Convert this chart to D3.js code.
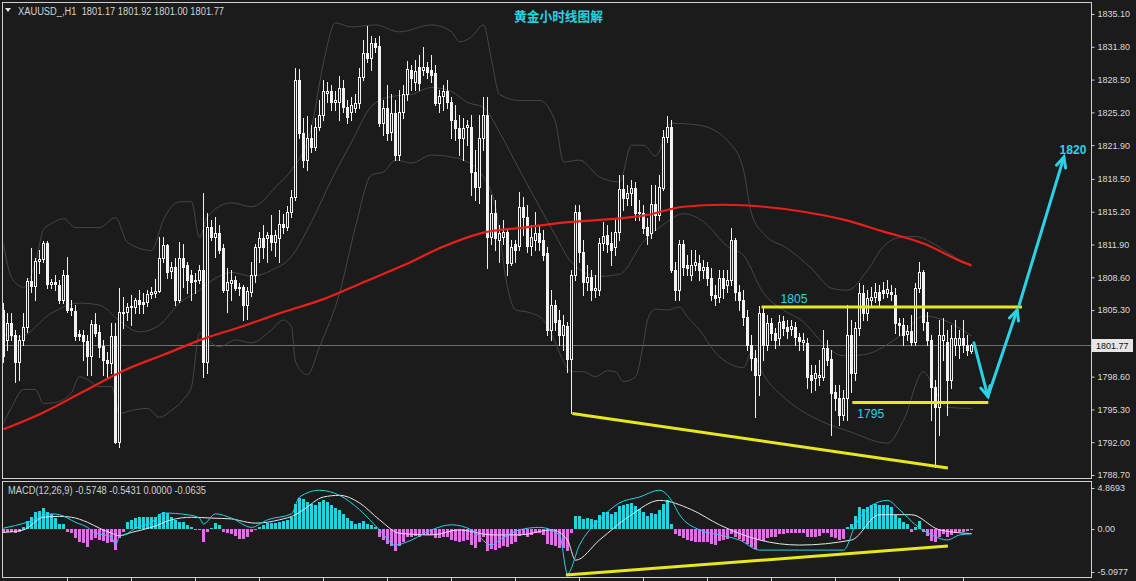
<!DOCTYPE html>
<html><head><meta charset="utf-8">
<script src="https://cdn.jsdelivr.net/npm/d3@7/dist/d3.min.js"></script>
<style>html,body{margin:0;padding:0;background:#1b1b1b;overflow:hidden}svg{display:block}</style>
</head><body>
<svg id="chart" width="1136" height="581"></svg>
<script>
// ---------------- DATA (XAUUSD H1) ----------------
const open = [
1805.3,1802.3,1804.0,1802.8,1800.1,1802.3,1803.6,1808.2,1807.7,1810.2,
1810.4,1812.1,1807.9,1808.1,1807.8,1806.3,1808.8,1805.5,1805.2,1802.9,
1802.8,1802.2,1800.7,1803.9,1803.1,1801.7,1800.3,1800.0,1802.7,1792.0,
1805.0,1805.1,1805.6,1805.6,1806.3,1806.1,1806.1,1806.9,1807.0,1807.2,
1810.5,1811.8,1809.2,1809.6,1806.3,1810.5,1809.8,1808.8,1808.3,1808.3,
1809.3,1800.1,1813.7,1812.7,1813.1,1811.5,1807.3,1808.0,1808.3,1807.5,
1807.6,1805.8,1807.1,1808.8,1811.6,1812.6,1812.6,1812.9,1812.2,1812.6,
1814.0,1813.7,1815.2,1816.7,1828.5,1823.1,1820.4,1822.6,1821.7,1823.7,
1824.9,1827.1,1827.3,1826.2,1826.2,1827.7,1825.7,1825.2,1825.6,1826.1,
1828.8,1831.2,1830.7,1832.2,1831.9,1824.1,1825.6,1823.2,1825.1,1820.9,
1825.2,1827.0,1829.5,1828.3,1829.8,1829.5,1829.8,1829.5,1829.2,1826.1,
1826.8,1827.3,1826.2,1824.4,1823.6,1822.6,1823.7,1823.7,1819.2,1817.7,
1822.6,1824.9,1812.7,1815.1,1812.4,1812.7,1813.2,1810.0,1811.9,1811.7,
1815.7,1814.7,1811.7,1812.4,1813.1,1812.4,1811.0,1803.3,1805.8,1804.3,
1802.8,1803.7,1800.4,1808.8,1815.2,1811.1,1808.1,1808.6,1807.3,1807.3,
1812.1,1812.9,1812.1,1811.6,1813.2,1817.5,1816.6,1817.1,1817.6,1815.2,
1815.1,1813.7,1813.1,1816.0,1814.9,1817.6,1822.7,1823.7,1809.3,1807.3,
1811.9,1809.8,1808.8,1809.8,1810.0,1809.3,1809.6,1808.5,1806.8,1806.6,
1808.5,1807.8,1808.3,1812.4,1807.1,1806.3,1804.6,1801.8,1800.5,1798.8,
1805.0,1801.8,1804.0,1803.0,1802.5,1804.2,1803.6,1803.4,1803.6,1802.6,
1802.1,1802.0,1798.8,1798.5,1798.6,1798.6,1801.5,1800.4,1797.1,1796.5,
1794.7,1796.5,1802.8,1799.0,1803.5,1807.0,1805.0,1806.3,1806.6,1807.1,
1807.3,1807.0,1807.1,1806.8,1804.0,1803.8,1802.9,1803.2,1802.1,1807.5,
1809.1,1804.1,1802.3,1797.6,1795.5,1802.3,1802.1,1798.3,1801.8,1801.8,
1802.5,1801.8,1801.17];
const high = [
1806.0,1805.0,1805.0,1803.3,1802.8,1805.0,1808.5,1811.5,1810.5,1811.3,
1812.3,1812.3,1808.4,1808.8,1808.3,1809.3,1810.6,1806.3,1805.8,1803.3,
1803.3,1802.8,1804.3,1805.0,1803.8,1802.3,1801.1,1804.0,1804.0,1807.5,
1806.6,1806.0,1806.8,1806.5,1807.3,1807.0,1807.3,1807.6,1808.4,1812.7,
1812.7,1812.0,1810.1,1810.5,1812.2,1811.9,1810.1,1809.3,1809.0,1809.8,
1817.1,1815.1,1814.4,1814.7,1813.9,1811.9,1809.5,1809.3,1808.7,1808.0,
1807.8,1807.6,1810.1,1811.9,1813.2,1813.9,1813.2,1814.9,1813.4,1815.4,
1815.0,1815.8,1817.4,1829.7,1829.6,1824.6,1824.8,1823.9,1824.6,1826.4,
1828.5,1828.3,1828.0,1827.3,1828.9,1828.5,1826.4,1826.7,1827.0,1829.7,
1832.5,1833.9,1832.9,1832.7,1832.9,1826.4,1828.0,1827.0,1826.4,1827.5,
1828.0,1830.4,1830.0,1830.5,1831.0,1831.8,1830.3,1831.0,1830.0,1827.5,
1828.0,1828.5,1826.7,1825.9,1824.9,1824.6,1824.4,1824.9,1821.4,1824.9,
1826.7,1826.7,1816.9,1816.4,1813.9,1814.4,1813.6,1812.4,1812.4,1817.2,
1816.7,1815.9,1813.9,1815.2,1813.9,1813.4,1811.6,1807.3,1806.3,1805.3,
1804.8,1804.1,1809.3,1815.9,1815.9,1812.4,1809.8,1809.3,1808.8,1812.6,
1814.2,1813.9,1813.2,1814.6,1818.9,1818.9,1817.9,1818.4,1818.2,1816.4,
1815.9,1814.6,1817.9,1817.9,1818.9,1823.4,1824.8,1824.4,1810.1,1812.4,
1812.4,1810.8,1811.3,1811.3,1810.8,1810.3,1810.1,1809.5,1807.8,1809.3,
1809.3,1809.3,1813.6,1812.6,1807.8,1807.3,1805.3,1802.8,1801.3,1805.7,
1805.7,1804.8,1804.5,1803.5,1804.8,1804.7,1804.3,1804.3,1804.1,1803.0,
1803.0,1802.5,1799.8,1799.8,1800.3,1803.3,1802.3,1801.3,1797.8,1797.8,
1797.3,1805.8,1804.3,1804.1,1808.0,1807.8,1807.3,1807.6,1808.0,1807.8,
1808.1,1808.3,1807.8,1807.5,1804.5,1804.5,1803.8,1804.8,1808.0,1810.1,
1809.3,1805.1,1802.8,1798.3,1804.3,1804.5,1803.3,1803.8,1804.3,1803.3,
1804.3,1802.8,1801.92];
const low = [
1800.1,1801.3,1802.3,1798.1,1798.3,1801.8,1803.1,1807.1,1806.3,1809.0,
1810.1,1807.5,1807.5,1807.3,1806.0,1806.0,1805.1,1804.8,1802.3,1802.3,
1800.3,1798.8,1798.8,1802.7,1800.6,1798.8,1798.5,1799.0,1791.9,1791.5,
1803.5,1804.3,1803.8,1805.0,1805.0,1805.0,1805.7,1806.5,1806.6,1807.1,
1810.1,1808.5,1808.5,1805.8,1806.1,1807.6,1807.0,1806.3,1807.0,1808.0,
1798.6,1799.0,1812.4,1810.6,1811.0,1807.1,1805.1,1806.3,1807.3,1806.8,
1804.3,1804.4,1806.7,1808.1,1810.1,1810.5,1810.1,1811.3,1810.7,1810.1,
1813.1,1813.4,1814.7,1816.4,1822.6,1819.7,1819.4,1821.2,1821.4,1823.4,
1824.4,1826.2,1825.4,1825.4,1824.4,1825.2,1824.1,1824.4,1825.2,1825.6,
1828.5,1830.3,1829.5,1831.3,1823.8,1822.9,1822.4,1822.4,1820.4,1820.4,
1824.6,1826.4,1827.5,1827.5,1827.5,1829.0,1828.7,1828.3,1825.9,1825.2,
1825.4,1825.6,1822.6,1822.4,1820.9,1820.4,1821.9,1816.9,1816.4,1816.1,
1821.4,1809.5,1811.9,1811.3,1810.1,1811.9,1808.8,1809.8,1810.1,1811.3,
1812.9,1811.1,1810.8,1811.3,1811.3,1810.3,1802.8,1802.3,1803.3,1801.8,
1801.3,1799.1,1794.9,1808.3,1810.1,1806.8,1807.3,1806.3,1806.6,1806.8,
1811.3,1811.1,1809.8,1810.8,1812.4,1815.4,1815.9,1815.9,1814.4,1814.4,
1813.1,1811.9,1812.6,1813.4,1814.4,1817.4,1822.2,1809.1,1806.3,1806.3,
1808.8,1808.8,1808.3,1809.3,1808.3,1808.5,1807.8,1806.3,1805.8,1806.1,
1806.5,1807.1,1807.8,1806.3,1805.3,1803.8,1801.3,1799.3,1794.5,1796.8,
1800.3,1801.3,1802.3,1801.5,1801.8,1802.8,1802.5,1802.8,1801.8,1801.3,
1801.3,1797.5,1797.1,1797.3,1797.8,1798.3,1799.8,1792.7,1795.2,1793.7,
1794.2,1794.2,1797.1,1798.3,1802.8,1804.3,1804.3,1805.8,1806.1,1805.8,
1806.5,1806.6,1806.3,1803.0,1802.8,1801.8,1802.3,1801.8,1801.8,1807.1,
1803.3,1801.8,1794.2,1789.5,1792.7,1800.3,1794.7,1797.5,1800.8,1800.5,
1801.1,1800.8,1801.00];
const close = [
1800.7,1804.0,1802.8,1800.1,1802.3,1803.6,1808.2,1807.7,1810.2,1810.4,
1812.1,1807.9,1808.1,1807.9,1806.3,1808.8,1805.3,1805.3,1802.7,1802.7,
1802.2,1800.7,1803.9,1803.0,1801.6,1800.3,1800.0,1802.7,1792.0,1805.1,
1805.1,1805.6,1805.7,1806.3,1805.9,1805.9,1806.9,1807.1,1807.2,1810.5,
1811.8,1809.1,1809.6,1806.3,1810.5,1809.6,1808.3,1808.1,1808.2,1809.3,
1800.1,1813.7,1812.7,1813.1,1811.3,1807.3,1808.1,1808.3,1807.5,1807.6,
1805.8,1807.2,1808.8,1811.6,1812.6,1811.6,1812.9,1812.2,1812.9,1814.0,
1813.7,1815.2,1816.7,1828.5,1823.1,1820.4,1822.6,1821.7,1823.7,1824.9,
1827.3,1827.3,1826.2,1826.4,1827.7,1825.7,1824.7,1825.9,1826.1,1828.8,
1831.2,1830.7,1832.2,1831.8,1824.1,1825.6,1823.1,1825.1,1820.9,1825.2,
1827.0,1829.6,1828.7,1829.4,1828.2,1829.8,1829.3,1829.0,1826.1,1826.8,
1827.3,1826.2,1824.4,1823.6,1822.6,1823.6,1823.9,1819.2,1817.7,1822.6,
1824.9,1812.7,1815.1,1812.6,1813.1,1813.2,1810.0,1811.6,1811.3,1815.7,
1814.7,1811.7,1812.7,1813.1,1812.2,1810.8,1803.3,1805.8,1804.1,1802.8,
1803.8,1800.4,1808.8,1815.2,1811.1,1808.1,1808.6,1807.3,1807.5,1812.1,
1812.8,1811.9,1811.3,1813.2,1817.5,1816.6,1817.1,1817.6,1815.1,1815.1,
1813.6,1812.9,1816.0,1814.9,1817.7,1822.7,1823.7,1809.3,1807.3,1811.9,
1809.6,1809.5,1809.8,1810.1,1809.3,1809.6,1808.5,1806.8,1806.5,1808.5,
1807.5,1808.3,1812.4,1807.1,1806.3,1804.6,1801.8,1800.5,1798.8,1805.0,
1801.8,1804.0,1803.0,1802.3,1804.1,1803.5,1803.2,1803.7,1802.6,1802.2,
1802.3,1798.6,1798.3,1799.0,1798.8,1801.5,1800.3,1797.0,1796.5,1794.7,
1796.5,1802.8,1799.0,1803.5,1807.0,1805.0,1806.5,1806.6,1807.1,1806.3,
1807.0,1807.4,1806.9,1804.0,1803.8,1802.8,1803.2,1802.1,1807.5,1809.1,
1804.1,1802.3,1797.6,1795.5,1802.8,1802.8,1798.3,1802.5,1802.5,1802.5,
1801.8,1801.3,1801.77];

// moving average (red) read at bar indices
const maIdx = [0,10,20,30,40,50,60,70,80,90,100,110,120,130,140,150,160,170,180,190,200,210,220,230,240,242];
const maVal = [1793.3,1795.0,1797.1,1799.2,1800.8,1802.4,1803.7,1805.1,1806.4,1808.1,1809.8,1811.7,1813.1,1813.6,1814.1,1814.4,1814.8,1815.7,1815.9,1815.7,1815.2,1814.4,1813.2,1812.0,1810.1,1809.8];

// Bollinger bands (grey) read at bar indices
const bbUpper = [[0,1811.9],[2,1808.6],[5,1807.6],[8,1810.1],[10,1813.4],[12,1814.0],[15,1814.5],[18,1813.6],[24,1813.6],[28,1814.6],[31,1812.1],[37,1811.3],[40,1814.4],[44,1816.2],[47,1816.2],[49,1812.6],[51,1814.7],[57,1816.1],[62,1815.7],[69,1818.1],[72,1819.4],[77,1823.7],[80,1830.2],[83,1834.2],[87,1833.8],[93,1834.0],[99,1833.3],[107,1834.0],[112,1833.3],[114,1832.3],[117,1832.8],[120,1834.0],[122,1830.5],[124,1827.0],[129,1826.4],[134,1826.4],[138,1824.2],[140,1820.2],[144,1820.4],[149,1818.7],[154,1818.2],[157,1821.9],[160,1821.9],[163,1820.8],[167,1824.1],[174,1823.9],[182,1821.9],[185,1819.4],[187,1815.0],[190,1813.0],[196,1811.5],[202,1809.5],[207,1807.5],[211,1807.3],[216,1809.3],[220,1811.7],[224,1812.6],[228,1812.7],[232,1812.1],[236,1811.1],[240,1810.1],[242,1809.7]];
const bbMiddle = [[0,1802.8],[4,1802.6],[12,1805.0],[19,1806.0],[24,1805.8],[29,1804.2],[34,1803.1],[39,1803.8],[44,1806.0],[49,1807.3],[53,1808.5],[57,1809.1],[62,1808.7],[67,1809.3],[72,1810.7],[77,1814.2],[82,1818.4],[87,1822.2],[92,1825.8],[97,1826.8],[102,1827.0],[107,1827.7],[112,1827.3],[116,1826.2],[120,1825.7],[124,1823.2],[129,1819.4],[134,1815.7],[138,1812.8],[142,1810.1],[149,1808.7],[154,1808.9],[160,1812.2],[165,1813.9],[170,1815.0],[175,1814.2],[181,1811.7],[185,1810.8],[190,1807.0],[195,1805.3],[200,1804.1],[205,1801.9],[210,1800.7],[215,1800.8],[220,1801.6],[225,1803.0],[230,1804.7],[235,1804.3],[242,1802.7]];
const bbLower = [[0,1793.9],[2,1795.5],[5,1797.3],[8,1797.3],[10,1795.9],[13,1796.0],[17,1797.0],[19,1798.6],[21,1798.3],[24,1797.6],[27,1797.6],[29,1794.9],[32,1795.2],[36,1795.4],[39,1794.5],[42,1795.2],[45,1796.3],[47,1797.6],[49,1803.0],[51,1802.3],[54,1801.6],[58,1802.3],[62,1802.0],[67,1803.3],[70,1804.3],[72,1803.6],[73,1800.1],[76,1798.8],[79,1801.6],[84,1807.0],[88,1813.7],[92,1818.9],[95,1819.2],[98,1820.4],[102,1820.1],[107,1820.9],[112,1820.7],[115,1820.4],[120,1818.7],[123,1815.7],[126,1807.6],[128,1805.3],[131,1805.1],[135,1804.3],[138,1802.0],[140,1800.1],[142,1799.1],[145,1799.1],[148,1798.6],[151,1799.2],[153,1799.1],[155,1798.1],[158,1798.6],[160,1802.0],[161,1804.3],[163,1805.4],[166,1805.3],[169,1805.6],[171,1804.6],[174,1803.3],[178,1801.0],[182,1799.8],[185,1799.5],[187,1801.1],[190,1798.8],[196,1796.2],[204,1794.2],[212,1793.0],[221,1791.9],[225,1794.2],[230,1799.1],[233,1797.1],[236,1795.5],[242,1795.4]];

// MACD panel
const macdHist = [
-0.5,-0.3,-0.4,-0.5,-0.4,0.3,0.9,1.4,2.0,2.1,
2.5,2.0,1.8,1.3,0.6,0.6,-0.3,-0.5,-1.1,-1.5,
-1.7,-2.1,-1.3,-1.1,-1.3,-1.4,-1.7,-1.5,-2.5,-1.1,
-0.4,0.8,1.1,1.3,1.4,1.4,1.4,1.4,1.4,1.8,
2.0,1.9,1.4,1.1,0.8,0.8,0.5,0.2,-0.1,-0.1,
-1.5,-0.4,0.1,0.7,0.5,-0.4,-0.5,-0.6,-0.8,-1.2,
-1.2,-1.0,-0.4,-0.1,0.2,0.5,0.7,0.7,0.7,0.8,
1.0,1.1,1.4,3.0,3.7,3.6,3.2,3.0,2.9,3.2,
3.5,3.2,2.8,2.5,2.3,1.8,1.3,0.9,0.6,0.7,
0.9,0.6,0.5,0.2,-1.0,-1.3,-1.8,-2.0,-2.6,-2.0,
-1.6,-1.0,-0.9,-0.8,-0.9,-0.7,-0.7,-0.7,-1.1,-1.1,
-1.0,-1.0,-1.3,-1.4,-1.6,-1.4,-1.3,-1.9,-2.2,-1.6,
-1.0,-2.6,-2.4,-2.5,-2.3,-2.0,-2.1,-1.8,-1.6,-0.8,
-0.6,-0.9,-0.7,-0.5,-0.5,-0.7,-1.8,-1.9,-2.0,-2.3,
-2.2,-2.6,-0.5,1.5,1.5,1.2,1.3,1.2,1.1,1.7,
2.0,2.0,1.8,2.0,2.7,2.9,3.0,3.1,2.7,2.4,
2.0,1.6,1.9,1.8,2.2,3.0,3.4,0.6,-0.6,-0.8,
-1.1,-1.3,-1.4,-1.5,-1.6,-1.5,-1.6,-1.8,-1.9,-1.4,
-1.3,-1.2,-0.6,-1.0,-1.2,-1.4,-1.8,-2.1,-2.4,-1.3,
-1.4,-1.1,-1.0,-0.9,-0.6,-0.6,-0.5,-0.5,-0.5,-0.5,
-0.5,-0.9,-1.0,-0.9,-0.8,-0.5,-0.5,-0.9,-1.1,-1.3,
-1.2,0.2,0.6,1.5,2.6,2.4,2.6,2.8,3.0,2.8,
2.9,2.9,2.6,1.7,1.3,0.8,0.6,-0.3,0.3,1.0,
-0.4,-0.8,-1.4,-1.6,-0.9,-0.6,-1.0,-0.7,-0.5,-0.4,
-0.3,-0.2,-0.0635];
const macdLine = [[0,0.1],[6,0.8],[12,1.8],[14,1.7],[18,0.8],[21,0.2],[23,-0.5],[27,-0.9],[28,-1.9],[29,-0.9],[31,-0.5],[33,0.1],[37,0.8],[40,1.9],[46,1.7],[49,1.3],[50,0.6],[53,1.8],[57,1.3],[62,0.2],[66,1.1],[72,1.8],[74,3.8],[79,4.6],[84,4.0],[89,2.3],[94,-0.1],[98,-1.9],[102,-1.3],[107,-0.1],[112,0.5],[117,-0.1],[122,-1.9],[124,-1.3],[129,-0.1],[134,0.2],[139,-0.7],[141,-5.3],[144,-1.9],[149,1.1],[154,3.1],[159,3.8],[164,4.6],[167,3.4],[169,1.7],[174,-0.1],[179,-0.7],[184,-1.3],[189,-2.5],[199,-2.5],[210,-2.5],[213,0.5],[217,2.8],[221,3.4],[224,2.3],[228,0.5],[232,-0.7],[236,-1.3],[239,-0.7],[242,-0.5748]];
const signalLine = [[0,-0.4],[5,-0.1],[10,1.4],[14,1.5],[17,1.4],[21,0.8],[24,0.1],[27,-0.5],[29,-0.8],[32,-0.4],[37,0.2],[42,1.1],[47,1.4],[52,1.3],[57,1.2],[61,0.8],[63,0.7],[69,1.1],[73,1.7],[75,2.3],[80,3.8],[84,4.0],[89,3.1],[94,1.1],[99,-0.5],[107,-0.7],[114,-0.1],[122,-0.7],[129,-0.7],[137,-0.1],[141,-1.3],[143,-3.7],[149,-1.3],[157,1.7],[164,3.4],[172,2.3],[179,0.5],[189,-1.3],[199,-1.9],[212,-1.3],[219,1.7],[227,1.7],[234,-0.1],[242,-0.5431]];

// axis ticks
const priceTicks = [1835.10,1831.80,1828.50,1825.20,1821.90,1818.50,1815.20,1811.90,1808.60,1805.30,1798.60,1795.30,1792.00,1788.70];
const macdTicks = [4.8693,0,-5.0977];
const macdTickLabels = ["4.8693","0.00","-5.0977"];
const timeTicks = [16,32,48,64,80,96,112,128,144,160,176,192,208,224,240];
const lastPrice = 1801.77;

// annotations (bar index, price)
const level1805 = {label:"1805", from:189.5, to:254.6, value:1805.6};
const level1795 = {label:"1795", from:212.2, to:246.2, value:1796.0};
const supportTrend = [[142.2,1794.9],[236.1,1789.4]];
const arrowLegs = [
  [[242.6,1802.0],[246.1,1796.6]],
  [[246.1,1796.6],[253.4,1805.3]],
  [[253.9,1805.8],[265.1,1820.7]]];
const targetLabel = {label:"1820", at:[264.0,1821.0]};
const macdTrend = [[140.6,-5.46],[236.1,-2.02]];

// ---------------- DRAW ----------------
const W=1136,H=581,BG="#1b1b1b";
const svg=d3.select("#chart");
svg.append("rect").attr("width",W).attr("height",H).attr("fill",BG);
const defs=svg.append("defs");
defs.append("clipPath").attr("id","cm").append("rect").attr("x",3).attr("y",3).attr("width",1088).attr("height",475);
defs.append("clipPath").attr("id","cd").append("rect").attr("x",3).attr("y",482).attr("width",1088).attr("height",95);

const xs=d3.scaleLinear().domain([0,242]).range([3.5,971.5]);
const ys=d3.scaleLinear().domain([1788.7,1835.1]).range([475,14]);
const ym=d3.scaleLinear().domain([-5.0977,4.8693]).range([572,488]);

const gMain=svg.append("g").attr("clip-path","url(#cm)");
// current price line
gMain.append("line").attr("x1",2).attr("x2",1091).attr("y1",Math.round(ys(lastPrice))+0.5).attr("y2",Math.round(ys(lastPrice))+0.5)
  .attr("stroke","#6e6e6e").attr("stroke-width",1);

// bands
const bandLine=d3.line().x(d=>xs(d[0])).y(d=>ys(d[1])).curve(d3.curveMonotoneX);
[bbUpper,bbMiddle,bbLower].forEach(b=>{
  gMain.append("path").attr("d",bandLine(b)).attr("fill","none").attr("stroke","#464646").attr("stroke-width",1);
});

// candles
const gC=gMain.append("g").attr("shape-rendering","crispEdges");
close.forEach((c,i)=>{
  const o=open[i];
  const hi=Math.max(high[i],o,c), lo=Math.min(low[i],o,c);
  const cx=xs(i);
  gC.append("line").attr("x1",cx).attr("x2",cx).attr("y1",Math.round(ys(hi))).attr("y2",Math.round(ys(lo))+1)
    .attr("stroke","#f2f2f2").attr("stroke-width",1);
  const top=Math.round(ys(Math.max(o,c))), bot=Math.round(ys(Math.min(o,c)));
  if(c>=o){ // bull: hollow
    const h=Math.max(1,bot-top);
    gC.append("rect").attr("x",cx-1).attr("y",top+0.5).attr("width",2).attr("height",h)
      .attr("fill",BG).attr("stroke","#f2f2f2").attr("stroke-width",1);
  } else {
    gC.append("rect").attr("x",cx-1.5).attr("y",top).attr("width",3).attr("height",Math.max(1,bot-top+1))
      .attr("fill","#f2f2f2");
  }
});

// red MA
const maLine=d3.line().x(d=>xs(d[0])).y(d=>ys(d[1])).curve(d3.curveMonotoneX);
gMain.append("path").attr("d",maLine(maIdx.map((k,j)=>[k,maVal[j]]))).attr("fill","none")
  .attr("stroke","#e8201c").attr("stroke-width",2.2);

// annotations
const YEL="#e8e61c", CY="#2bd2e4";
const gA=svg.append("g");
[level1805,level1795].forEach(L=>{
  gA.append("line").attr("x1",xs(L.from)).attr("x2",xs(L.to)).attr("y1",ys(L.value)).attr("y2",ys(L.value))
    .attr("stroke",YEL).attr("stroke-width",3);
});
gA.append("line").attr("x1",xs(supportTrend[0][0])).attr("y1",ys(supportTrend[0][1]))
  .attr("x2",xs(supportTrend[1][0])).attr("y2",ys(supportTrend[1][1])).attr("stroke",YEL).attr("stroke-width",3);
gA.append("text").attr("x",xs(level1805.from)+19).attr("y",ys(level1805.value)-4).text(level1805.label)
  .attr("fill",CY).style("font","13px 'Liberation Sans', Arial").attr("textLength",27).attr("lengthAdjust","spacingAndGlyphs");
gA.append("text").attr("x",xs(level1795.from)+5).attr("y",ys(level1795.value)+16).text(level1795.label)
  .attr("fill",CY).style("font","13px 'Liberation Sans', Arial").attr("textLength",27).attr("lengthAdjust","spacingAndGlyphs");
gA.append("text").attr("x",xs(targetLabel.at[0])).attr("y",ys(targetLabel.at[1])).text(targetLabel.label)
  .attr("fill",CY).style("font","bold 12px 'Liberation Sans', Arial").attr("textLength",27).attr("lengthAdjust","spacingAndGlyphs");

arrowLegs.forEach(seg=>{
  const x1=xs(seg[0][0]),y1=ys(seg[0][1]),x2=xs(seg[1][0]),y2=ys(seg[1][1]);
  gA.append("line").attr("x1",x1).attr("y1",y1).attr("x2",x2).attr("y2",y2).attr("stroke",CY).attr("stroke-width",3).attr("stroke-linecap","round");
  const ang=Math.atan2(y2-y1,x2-x1), L=11, sp=0.45;
  const p=[[x2-L*Math.cos(ang-sp),y2-L*Math.sin(ang-sp)],[x2,y2],[x2-L*Math.cos(ang+sp),y2-L*Math.sin(ang+sp)]];
  gA.append("polyline").attr("points",p.map(q=>q.join(",")).join(" ")).attr("fill","none")
    .attr("stroke",CY).attr("stroke-width",3).attr("stroke-linejoin","miter").attr("stroke-linecap","round");
});

// MACD panel
const gD=svg.append("g").attr("clip-path","url(#cd)");
const gH=gD.append("g").attr("shape-rendering","crispEdges");
macdHist.forEach((v,i)=>{
  const y0=ym(0), y1=ym(v);
  gH.append("rect").attr("x",xs(i)-1.5).attr("width",3).attr("y",Math.round(Math.min(y0,y1))).attr("height",Math.max(1,Math.round(Math.abs(y1-y0))))
    .attr("fill",v>=0?"#1fd6e0":"#e26fe6");
});
const mLine=d3.line().x(d=>xs(d[0])).y(d=>ym(d[1])).curve(d3.curveMonotoneX);
gD.append("path").attr("d",mLine(signalLine)).attr("fill","none").attr("stroke","#e6e6e6").attr("stroke-width",1);
gD.append("path").attr("d",mLine(macdLine)).attr("fill","none").attr("stroke","#22d6e6").attr("stroke-width",1);
gD.append("line").attr("x1",xs(macdTrend[0][0])).attr("y1",ym(macdTrend[0][1])).attr("x2",xs(macdTrend[1][0])).attr("y2",ym(macdTrend[1][1]))
  .attr("stroke",YEL).attr("stroke-width",3);

// frames
const FR="#cfcfcf";
const gF=svg.append("g").attr("shape-rendering","crispEdges").attr("stroke",FR).attr("stroke-width",1);
gF.append("line").attr("x1",2).attr("x2",1092).attr("y1",2.5).attr("y2",2.5);
gF.append("line").attr("x1",2.5).attr("x2",2.5).attr("y1",2).attr("y2",479);
gF.append("line").attr("x1",2).attr("x2",1092).attr("y1",478.5).attr("y2",478.5);
gF.append("line").attr("x1",1091.5).attr("x2",1091.5).attr("y1",2).attr("y2",479);
gF.append("line").attr("x1",2).attr("x2",1092).attr("y1",481.5).attr("y2",481.5);
gF.append("line").attr("x1",2.5).attr("x2",2.5).attr("y1",481).attr("y2",578);
gF.append("line").attr("x1",1091.5).attr("x2",1091.5).attr("y1",481).attr("y2",578);
gF.append("line").attr("x1",2).attr("x2",1092).attr("y1",577.5).attr("y2",577.5);
timeTicks.forEach(t=>{ gF.append("line").attr("x1",xs(t)).attr("x2",xs(t)).attr("y1",577).attr("y2",581); });

// price axis
const axP=d3.axisRight(ys).tickValues(priceTicks).tickSize(3).tickPadding(3).tickFormat(d=>d.toFixed(2));
const gP=svg.append("g").attr("transform","translate(1091.5,0)").call(axP);
gP.select(".domain").remove();
gP.selectAll("line").attr("stroke",FR);
gP.selectAll("text").attr("fill","#dadada").style("font","9px 'Liberation Sans', Arial");
// macd axis
const axM=d3.axisRight(ym).tickValues(macdTicks).tickSize(3).tickPadding(3).tickFormat((d,i)=>macdTickLabels[i]);
const gM=svg.append("g").attr("transform","translate(1091.5,0)").call(axM);
gM.select(".domain").remove();
gM.selectAll("line").attr("stroke",FR);
gM.selectAll("text").attr("fill","#dadada").style("font","9px 'Liberation Sans', Arial");

// last price tag
const ly=ys(lastPrice);
svg.append("rect").attr("x",1092).attr("y",Math.round(ly)-6).attr("width",41).attr("height",13).attr("fill","#e6e6e6");
svg.append("text").attr("x",1096).attr("y",Math.round(ly)+4).text(lastPrice.toFixed(2)).attr("fill","#111")
  .style("font","9px 'Liberation Sans', Arial");

// header texts
svg.append("path").attr("d","M5,8 L11,8 L8,12 Z").attr("fill","#e0e0e0");
svg.append("text").attr("x",18).attr("y",15).text("XAUUSD_,H1  1801.17 1801.92 1801.00 1801.77")
  .attr("fill","#d4d4d4").style("font","10px 'Liberation Sans', Arial").attr("textLength",206).attr("lengthAdjust","spacingAndGlyphs").attr("xml:space","preserve");
svg.append("text").attr("x",514).attr("y",21).text("黄金小时线图解").attr("fill","#22d3e0")
  .style("font","bold 13px 'Noto Sans CJK SC'").attr("textLength",89).attr("lengthAdjust","spacingAndGlyphs");
svg.append("text").attr("x",8).attr("y",494).text("MACD(12,26,9) -0.5748 -0.5431 0.0000 -0.0635")
  .attr("fill","#cfcfcf").style("font","10px 'Liberation Sans', Arial").attr("textLength",198).attr("lengthAdjust","spacingAndGlyphs");
</script>
</body></html>
